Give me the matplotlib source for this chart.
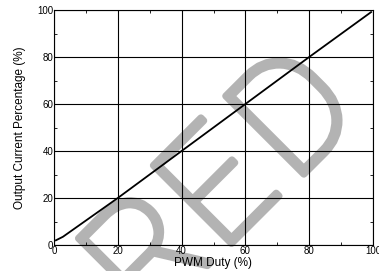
import matplotlib
matplotlib.use("Agg")
import matplotlib.pyplot as plt
import matplotlib.patheffects as pe
from matplotlib.ticker import MultipleLocator

# PWM duty (%) vs output current (%)
duty = [0.6, 2.8, 20, 40, 60, 80, 99.4]
current = [2.0, 3.5, 20, 40, 60, 80, 99.1]

ticks = [0, 20, 40, 60, 80, 100]

plt.rcParams["font.family"] = ["Liberation Sans", "DejaVu Sans"]

fig = plt.figure(figsize=(3.79, 2.71), dpi=100)
W, H = 379, 271
ax = fig.add_axes([54 / W, 1 - 245 / H, (373 - 54) / W, (245 - 10) / H])
ax.patch.set_alpha(0)

# watermark letters, behind the plot
wm_gray = "#b3b3b3"
for ch, (px, py) in [("R", (152, 261)), ("E", (222, 193)), ("D", (299, 119))]:
    fig.text(px / W, 1 - py / H, ch, fontsize=112, color=wm_gray,
             family=["Roboto", "DejaVu Sans"], fontweight="light",
             rotation=45, ha="center", va="center", rotation_mode="anchor",
             zorder=-5,
             path_effects=[pe.Stroke(linewidth=5, foreground=wm_gray), pe.Normal()])

ax.plot(duty, current, color="black", linewidth=1.3, zorder=3)

ax.set_xlim(0, 100)
ax.set_ylim(0, 100)
ax.set_xticks(ticks)
ax.set_yticks(ticks)
ax.xaxis.set_minor_locator(MultipleLocator(10))
ax.yaxis.set_minor_locator(MultipleLocator(10))
ax.grid(True, which="major", color="black", linewidth=0.8)
ax.tick_params(which="both", direction="in", top=True, right=True,
               labelsize=7, pad=0.5, colors="black")
ax.tick_params(which="major", length=0)
ax.tick_params(which="minor", length=2.5, width=0.6)
for s in ax.spines.values():
    s.set_linewidth(0.8)

ax.set_xlabel("PWM Duty (%)", fontsize=8.5, labelpad=1)
ax.set_ylabel("Output Current Percentage (%)", fontsize=8.5, labelpad=8)

fig.savefig("out.png", dpi=100)
